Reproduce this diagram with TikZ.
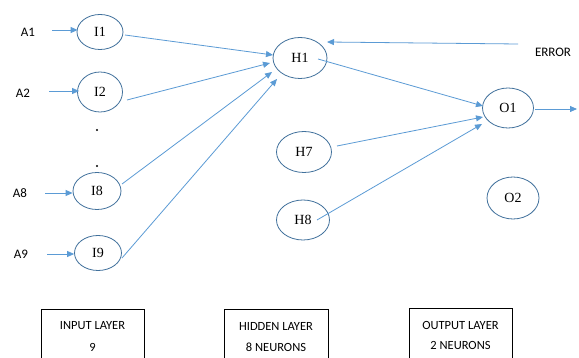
\documentclass[tikz,border=0pt]{standalone}
\usepackage{fontspec}
\setmainfont{Liberation Serif}
\newfontfamily\labelfont{Carlito}
\usetikzlibrary{shapes.geometric,arrows.meta,calc}
\definecolor{wire}{RGB}{91,155,213}
\definecolor{rim}{RGB}{65,113,156}
\tikzset{
  neuron/.style={ellipse,draw=rim,line width=0.8pt,inner sep=0pt,
    minimum width=50pt,minimum height=40pt,font=\fontsize{14}{14}\selectfont},
  inlabel/.style={font=\labelfont\fontsize{13}{13}\selectfont,inner sep=0pt},
  wirearrow/.style={draw=wire,line width=0.8pt,-{Triangle[length=7pt,width=6pt]}},
  layerbox/.style={draw=black,line width=0.6pt},
  boxtext/.style={font=\labelfont\fontsize{12.5}{13}\selectfont,inner sep=0pt},
  dot/.style={circle,fill=black,inner sep=0pt,minimum size=2.2pt}
}
\begin{document}
\begin{tikzpicture}[x=1pt,y=-1pt]
\useasboundingbox (0,0) rectangle (579,358);
\fill[white] (0,0) rectangle (579,358);

% input layer
\node[neuron,minimum width=46pt,minimum height=35pt] (I1) at (100,32) {I1};
\node[neuron,minimum width=45pt,minimum height=40pt] (I2) at (100,92) {I2};
\node[neuron,minimum width=48pt,minimum height=37pt] (I8) at (97,191) {I8};
\node[neuron,minimum width=47pt,minimum height=35pt] (I9) at (98,253) {I9};
\node[dot] (d1) at (97,130) {};
\node[dot] (d2) at (97,166) {};

% input signals
\node[inlabel] (A1) at (28,32) {A1};
\node[inlabel] (A2) at (23,93) {A2};
\node[inlabel] (A8) at (20,193) {A8};
\node[inlabel] (A9) at (21,254) {A9};
\draw[wirearrow] ($(A1)+(24,-2)$) -- ($(I1.west)+(1,-2)$);
\draw[wirearrow] ($(A2)+(26,-2)$) -- ($(I2.west)+(2,-1)$);
\draw[wirearrow] ($(A8)+(25,0)$) -- ($(I8.west)+(0,2)$);
\draw[wirearrow] ($(A9)+(26,0)$) -- ($(I9.west)+(0,1)$);

% hidden layer
\node[neuron,minimum width=54pt,minimum height=41pt] (H1) at (300,58) {H1};
\node[neuron,minimum width=55pt,minimum height=41pt] (H7) at (304,152) {H7};
\node[neuron,minimum width=53pt,minimum height=40pt] (H8) at (303,220) {H8};

% output layer
\node[neuron,minimum width=51pt,minimum height=40pt] (O1) at (508,108) {O1};
\node[neuron,minimum width=52pt,minimum height=42pt] (O2) at (513,198) {O2};

% input -> hidden
\draw[wirearrow] ($(I1)+(25,3)$) -- ($(H1)+(-27,-3)$);
\draw[wirearrow] ($(I2)+(27,8)$) -- ($(H1)+(-30,5)$);
\draw[wirearrow] ($(I8)+(25,-7)$) -- ($(H1)+(-28,14)$);
\draw[wirearrow] ($(I9)+(24,5)$) -- ($(H1)+(-23,21)$);

% hidden -> output
\draw[wirearrow] ($(H1)+(18,1)$) -- ($(O1)+(-25,-2)$);
\draw[wirearrow] ($(H7)+(33,-6)$) -- ($(O1)+(-25,9)$);
\draw[wirearrow] ($(H8)+(14,0)$) -- ($(O1)+(-26,16)$);

% output and error feedback
\coordinate (out) at (577,109);
\draw[wirearrow] ($(O1.east)+(1,1)$) -- (out);
\node[inlabel] (ERR) at (553,52) {ERROR};
\coordinate (errstart) at (518,44);
\draw[wirearrow] (errstart) -- ($(H1)+(27,-16)$);

% layer captions
\draw[layerbox] (41,362) |- (144,309) -- (144,362);
\draw[layerbox] (224,362) |- (328,309) -- (328,362);
\draw[layerbox] (409,362) |- (512,308) -- (512,362);
\node[boxtext] (t1) at (92.5,326) {INPUT LAYER};
\node[boxtext] (t1b) at (92.5,347) {9};
\node[boxtext] (t2) at (276,326) {HIDDEN LAYER};
\node[boxtext] (t2b) at (276,347) {8 NEURONS};
\node[boxtext] (t3) at (460.5,325) {OUTPUT LAYER};
\node[boxtext] (t3b) at (460.5,345) {2 NEURONS};
\end{tikzpicture}
\end{document}
